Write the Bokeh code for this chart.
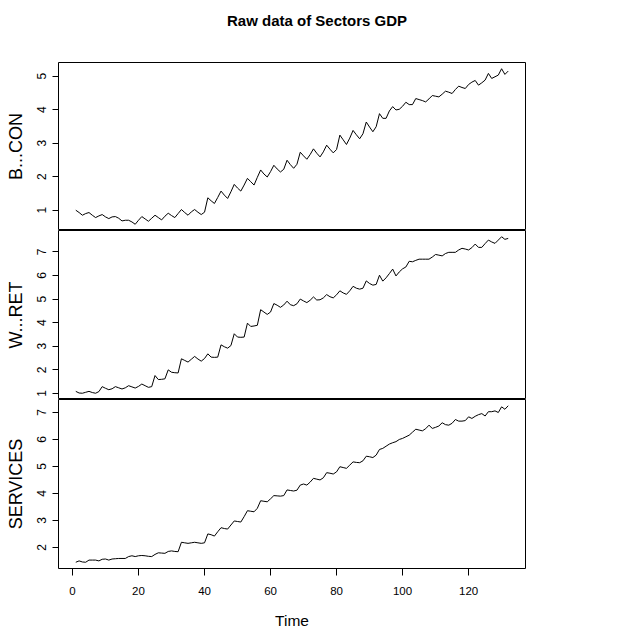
import numpy as np
from bokeh.plotting import figure
from bokeh.layouts import column
from bokeh.models import Range1d, FixedTicker, Label
from bokeh.embed import file_html
from bokeh.resources import INLINE

# ---- data ----
time = list(range(1, 133))

b_con = [
    1.00, 0.93, 0.85, 0.90, 0.93, 0.85, 0.78, 0.83, 0.87, 0.80, 0.75, 0.80,
    0.81, 0.76, 0.68, 0.70, 0.70, 0.65, 0.58, 0.70, 0.81, 0.74, 0.67, 0.76,
    0.85, 0.78, 0.71, 0.82, 0.91, 0.84, 0.78, 0.90, 1.02, 0.93, 0.85, 0.95,
    1.02, 0.94, 0.87, 0.94, 1.37, 1.28, 1.20, 1.38, 1.57, 1.45, 1.35, 1.55,
    1.77, 1.66, 1.57, 1.75, 1.95, 1.85, 1.75, 1.98, 2.20, 2.08, 1.99, 2.15,
    2.34, 2.23, 2.14, 2.22, 2.49, 2.36, 2.25, 2.37, 2.73, 2.62, 2.52, 2.66,
    2.83, 2.70, 2.59, 2.74, 2.94, 2.82, 2.71, 2.81, 3.24, 3.10, 2.96, 3.15,
    3.38, 3.25, 3.13, 3.28, 3.63, 3.48, 3.34, 3.49, 3.88, 3.74, 3.74, 3.96,
    4.09, 3.99, 4.01, 4.10, 4.22, 4.15, 4.15, 4.33, 4.30, 4.27, 4.23, 4.32,
    4.42, 4.40, 4.38, 4.46, 4.55, 4.52, 4.48, 4.60, 4.70, 4.66, 4.63, 4.75,
    4.82, 4.87, 4.73, 4.80, 4.88, 5.08, 4.93, 4.98, 5.03, 5.22, 5.05, 5.15,
]

w_ret = [
    1.09, 1.02, 1.01, 1.05, 1.09, 1.04, 1.01, 1.08, 1.29, 1.22, 1.16, 1.20,
    1.29, 1.24, 1.19, 1.24, 1.33, 1.28, 1.23, 1.30, 1.40, 1.33, 1.26, 1.29,
    1.76, 1.59, 1.60, 1.62, 2.00, 1.90, 1.88, 1.87, 2.47, 2.40, 2.33, 2.45,
    2.57, 2.46, 2.37, 2.48, 2.68, 2.54, 2.53, 2.54, 3.06, 2.98, 2.92, 3.03,
    3.53, 3.39, 3.38, 3.39, 3.98, 3.84, 3.86, 3.89, 4.55, 4.45, 4.35, 4.45,
    4.81, 4.74, 4.65, 4.75, 4.91, 4.76, 4.72, 4.80, 5.00, 4.92, 4.85, 4.95,
    5.09, 4.96, 4.97, 5.05, 5.19, 5.10, 5.05, 5.18, 5.35, 5.26, 5.20, 5.35,
    5.54, 5.46, 5.42, 5.46, 5.77, 5.66, 5.59, 5.62, 6.01, 5.76, 5.90, 6.08,
    6.27, 5.98, 6.15, 6.28, 6.36, 6.60, 6.58, 6.64, 6.69, 6.69, 6.69, 6.69,
    6.78, 6.89, 6.86, 6.83, 6.93, 6.98, 6.98, 6.98, 7.08, 7.15, 7.12, 7.08,
    7.18, 7.33, 7.19, 7.19, 7.35, 7.50, 7.42, 7.36, 7.50, 7.64, 7.53, 7.57,
]

services = [
    1.45, 1.50, 1.46, 1.45, 1.53, 1.53, 1.53, 1.50, 1.56, 1.57, 1.53, 1.57,
    1.58, 1.59, 1.59, 1.59, 1.66, 1.69, 1.66, 1.69, 1.70, 1.69, 1.67, 1.66,
    1.74, 1.80, 1.79, 1.78, 1.85, 1.87, 1.85, 1.84, 2.19, 2.17, 2.15, 2.17,
    2.19, 2.17, 2.15, 2.17, 2.50, 2.47, 2.42, 2.58, 2.73, 2.70, 2.68, 2.83,
    2.98, 2.96, 2.94, 3.14, 3.36, 3.34, 3.32, 3.45, 3.73, 3.71, 3.69, 3.80,
    3.92, 3.91, 3.90, 3.92, 4.13, 4.11, 4.09, 4.12, 4.31, 4.35, 4.31, 4.42,
    4.56, 4.53, 4.50, 4.58, 4.77, 4.75, 4.72, 4.80, 4.99, 4.96, 4.93, 5.05,
    5.17, 5.15, 5.14, 5.21, 5.38, 5.36, 5.33, 5.42, 5.63, 5.67, 5.75, 5.83,
    5.88, 5.92, 6.00, 6.04, 6.10, 6.16, 6.27, 6.38, 6.35, 6.32, 6.40, 6.53,
    6.41, 6.45, 6.50, 6.62, 6.55, 6.53, 6.60, 6.74, 6.68, 6.68, 6.70, 6.84,
    6.78, 6.86, 6.92, 6.96, 6.87, 7.03, 7.03, 7.06, 7.00, 7.21, 7.12, 7.25,
]

series_names = ["B...CON", "W...RET", "SERVICES"]
y_ticks = [[1, 2, 3, 4, 5], [1, 2, 3, 4, 5, 6, 7], [2, 3, 4, 5, 6, 7]]
x_ticks = [0, 20, 40, 60, 80, 100, 120]
title_text = "Raw data of Sectors GDP"
x_label = "Time"

# ---- layout / style ----
FONT = "Liberation Sans"
W = 633
LEFT = 58
RIGHT = 108
TOP = 62
t0, t1 = min(time), max(time)
xr = t1 - t0
x_range = Range1d(t0 - 0.04 * xr, t1 + 0.04 * xr)


def make_panel(values, name, ticks, height, bottom, show_x):
    lo, hi = min(values), max(values)
    r = hi - lo
    p = figure(width=W, height=height, x_range=x_range,
               y_range=Range1d(lo - 0.04 * r, hi + 0.04 * r),
               output_backend="svg", toolbar_location=None,
               min_border_left=LEFT, min_border_right=RIGHT,
               min_border_top=0, min_border_bottom=bottom,
               x_axis_location="below" if show_x else None)
    p.line(time, values, line_color="black", line_width=1)
    p.xgrid.visible = False
    p.ygrid.visible = False
    p.outline_line_color = "black"
    p.outline_line_width = 1
    p.background_fill_color = "white"
    p.border_fill_color = "white"

    ax = p.yaxis[0]
    ax.ticker = FixedTicker(ticks=ticks)
    ax.axis_line_color = None
    ax.major_tick_in = 0
    ax.major_tick_out = 6
    ax.major_tick_line_color = "black"
    ax.minor_tick_line_color = None
    ax.major_label_orientation = "parallel"
    ax.major_label_text_font = FONT
    ax.major_label_text_font_size = "12px"
    ax.major_label_text_color = "black"
    ax.major_label_standoff = 6
    ax.axis_label = name
    ax.axis_label_text_font = FONT
    ax.axis_label_text_font_style = "normal"
    ax.axis_label_text_font_size = "18px"
    ax.axis_label_text_color = "black"
    ax.axis_label_standoff = 9

    if show_x:
        xa = p.xaxis[0]
        xa.ticker = FixedTicker(ticks=x_ticks)
        xa.axis_line_color = None
        xa.major_tick_in = 0
        xa.major_tick_out = 7
        xa.major_tick_line_color = "black"
        xa.minor_tick_line_color = None
        xa.major_label_text_font = FONT
        xa.major_label_text_font_size = "11.5px"
        xa.major_label_text_color = "black"
        xa.major_label_standoff = 11
        xa.axis_label = x_label
        xa.axis_label_text_font = FONT
        xa.axis_label_text_font_style = "normal"
        xa.axis_label_text_font_size = "15.5px"
        xa.axis_label_text_color = "black"
        xa.axis_label_standoff = 14
    return p


# title strip above the three panels (its frame is aligned with theirs)
p0 = figure(width=W, height=TOP, output_backend="svg", toolbar_location=None,
            min_border_left=LEFT, min_border_right=RIGHT,
            min_border_top=0, min_border_bottom=0,
            x_axis_location=None, y_axis_location=None,
            x_range=Range1d(0, 1), y_range=Range1d(0, 1))
p0.outline_line_color = None
p0.xgrid.visible = False
p0.ygrid.visible = False
p0.border_fill_color = "white"
p0.add_layout(Label(x=W / 2 - LEFT, y=TOP - 20,
                    x_units="screen", y_units="screen",
                    text=title_text, text_align="center",
                    text_baseline="middle", text_font=FONT,
                    text_font_style="bold", text_font_size="15px",
                    text_color="black"))

p1 = make_panel(b_con, series_names[0], y_ticks[0], 168, 0, False)
p2 = make_panel(w_ret, series_names[1], y_ticks[1], 169, 0, False)
p3 = make_panel(services, series_names[2], y_ticks[2], 232, 63, True)

layout = column(p0, p1, p2, p3, spacing=0)

with open("out.html", "w") as f:
    f.write(file_html(layout, INLINE))
